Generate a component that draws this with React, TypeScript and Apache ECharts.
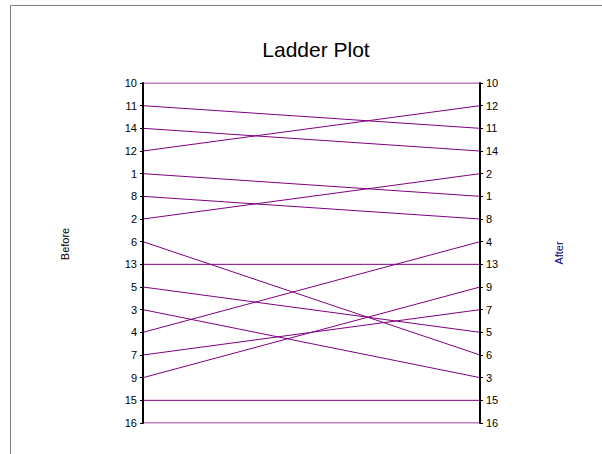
import React, { useEffect, useRef } from "react";
import * as echarts from "echarts";

const titleText = "Ladder Plot";
const beforeLabels = [10, 11, 14, 12, 1, 8, 2, 6, 13, 5, 3, 4, 7, 9, 15, 16];
const afterLabels = [10, 12, 11, 14, 2, 1, 8, 4, 13, 9, 7, 5, 6, 3, 15, 16];
const leftName = "Before";
const rightName = "After";

export default function App() {
  const ref = useRef<HTMLDivElement>(null);
  useEffect(() => {
    if (!ref.current) return;
    const chart = echarts.init(ref.current, undefined, { renderer: "svg" });
    const series = beforeLabels.map((item) => ({
      type: "line",
      name: String(item),
      data: [
        [0, beforeLabels.indexOf(item)],
        [1, afterLabels.indexOf(item)],
      ],
      yAxisIndex: 0,
      symbol: "none",
      silent: true,
      lineStyle: { color: "#800080", width: 1 },
      z: 1,
    }));
    const font = "Liberation Sans, Arial";
    const axisCommon = {
      type: "value",
      min: 0,
      max: beforeLabels.length - 1,
      interval: 1,
      inverse: true,
      splitLine: { show: false },
      axisLine: { show: true, onZero: false, lineStyle: { color: "#000", width: 2 } },
      axisTick: { show: true, length: 3, lineStyle: { color: "#000", width: 1 } },
      z: 3,
    };
    chart.setOption({
      animation: false,
      backgroundColor: "#fff",
      title: {
        text: titleText,
        left: 311,
        textAlign: "center",
        top: 34,
        textStyle: { fontFamily: font, fontSize: 21, fontWeight: "normal", color: "#000" },
      },
      graphic: [
        {
          type: "rect",
          shape: { x: 10.5, y: 5.5, width: 700, height: 600 },
          style: { fill: "none", stroke: "#808080", lineWidth: 1 },
          silent: true,
        },
        {
          type: "text",
          x: 65,
          y: 244,
          rotation: Math.PI / 2,
          style: {
            text: leftName,
            fontFamily: font,
            fontSize: 11,
            fill: "#000",
            align: "center",
            verticalAlign: "middle",
          },
          silent: true,
        },
        {
          type: "text",
          x: 559,
          y: 253,
          rotation: Math.PI / 2,
          style: {
            text: rightName,
            fontFamily: font,
            fontSize: 11,
            fill: "#000080",
            align: "center",
            verticalAlign: "middle",
          },
          silent: true,
        },
      ],
      grid: { left: 143, right: 122, top: 83, bottom: 31 },
      xAxis: { type: "value", min: 0, max: 1, show: false },
      yAxis: [
        {
          ...axisCommon,
          position: "left",
          axisLabel: {
            formatter: (v: number) => String(beforeLabels[Math.round(v)] ?? ""),
            fontFamily: font,
            fontSize: 11,
            color: "#000",
            margin: 6,
          },
        },
        {
          ...axisCommon,
          position: "right",
          axisLabel: {
            formatter: (v: number) => String(afterLabels[Math.round(v)] ?? ""),
            fontFamily: font,
            fontSize: 11,
            color: "#000",
            margin: 6,
          },
        },
      ],
      series,
    });
    return () => chart.dispose();
  }, []);
  return (
    <div
      ref={ref}
      style={{ position: "absolute", left: 0, top: 0, width: 602, height: 454 }}
    />
  );
}
